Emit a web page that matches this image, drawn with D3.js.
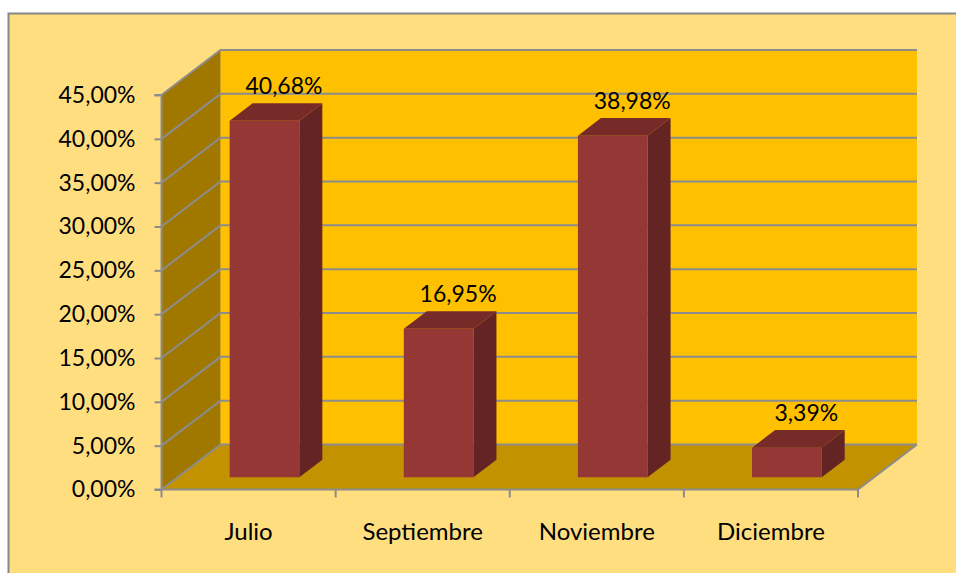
<!DOCTYPE html>
<html>
<head>
<meta charset="utf-8">
<script src="https://cdn.jsdelivr.net/npm/d3@7"></script>
<style>
  html, body { margin: 0; padding: 0; background: #ffffff; }
  svg { display: block; }
  text { font-family: Lato, "Open Sans", sans-serif; fill: #000; }
</style>
</head>
<body>
<svg id="chart" width="956" height="573"></svg>
<script>
const categories = ["Julio", "Septiembre", "Noviembre", "Diciembre"];
const values = [40.68, 16.95, 38.98, 3.39];
const valueLabels = ["40,68%", "16,95%", "38,98%", "3,39%"];
const tickValues = [0, 5, 10, 15, 20, 25, 30, 35, 40, 45];
const tickLabels = ["0,00%", "5,00%", "10,00%", "15,00%", "20,00%", "25,00%", "30,00%", "35,00%", "40,00%", "45,00%"];

const svg = d3.select("#chart");
const W = 956, H = 573;

// projection parameters
const DX = 59, DY = -45;
const x0 = 161.5, x1 = 858;
const x = d3.scaleBand().domain(categories).range([x0, x1]).paddingInner(0).paddingOuter(0);
const y = d3.scaleLinear().domain([0, 45]).range([489.5, 95]);
const P = (px, v, d) => [px + d * DX, y(v) + d * DY];

const grid = "#8c8c8c";

// outer background
svg.append("rect").attr("x", 8.5).attr("y", 13.5).attr("width", W).attr("height", H)
  .attr("fill", "#FFDE80").attr("stroke", "#888").attr("stroke-width", 2);

const line = d3.line();

// back wall
svg.append("path").attr("d", line([P(x0,0,1), P(x1,0,1), P(x1,45,1), P(x0,45,1)]) + "Z")
  .attr("fill", "#FFC000");
// left wall
svg.append("path").attr("d", line([P(x0,0,0), P(x0,0,1), P(x0,45,1), P(x0,45,0)]) + "Z")
  .attr("fill", "#A07800");
// floor
svg.append("path").attr("d", line([P(x0,0,0), P(x1,0,0), P(x1,0,1), P(x0,0,1)]) + "Z")
  .attr("fill", "#C29200");

// gridlines on back wall and left wall
tickValues.forEach(t => {
  svg.append("path").attr("d", line([P(x0,t,0), P(x0,t,1), P(x1,t,1)]))
    .attr("fill", "none").attr("stroke", grid).attr("stroke-width", 2);
});
// floor edges
svg.append("path").attr("d", line([P(x0,0,0), P(x1,0,0), P(x1,0,1)]))
  .attr("fill", "none").attr("stroke", grid).attr("stroke-width", 2);

// value axis
const yAxis = d3.axisLeft(y).tickValues(tickValues).tickSize(7).tickPadding(19)
  .tickFormat((d, i) => tickLabels[i]);
const ya = svg.append("g").attr("transform", `translate(${x0},0)`).call(yAxis);
ya.select(".domain").attr("stroke", grid).attr("stroke-width", 2).attr("d", `M-7,${y(0)}H0V${y(45)}H-7`);
ya.selectAll(".tick line").attr("stroke", grid).attr("stroke-width", 2);
ya.selectAll(".tick text").style("font-size", "23px").style("font-family", "Lato, sans-serif").attr("fill", "#000");

// category axis ticks
const catTicks = categories.map(c => x(c)).concat([x1]);
svg.selectAll(".ctick").data(catTicks).enter().append("line")
  .attr("x1", d => d).attr("x2", d => d).attr("y1", y(0)).attr("y2", y(0) + 8)
  .attr("stroke", grid).attr("stroke-width", 2);
svg.selectAll(".clabel").data(categories).enter().append("text")
  .attr("x", d => x(d) + x.bandwidth() / 2).attr("y", 540)
  .attr("text-anchor", "middle").style("font-size", "24px").text(d => d);

// bars
const d0 = 0.27, d1 = 0.66, bw = 0.4;
const bars = svg.selectAll(".bar").data(values).enter().append("g");
bars.each(function(v, i) {
  const g = d3.select(this);
  const cx = x(categories[i]) + x.bandwidth() / 2;
  const hw = x.bandwidth() * bw / 2;
  const L = cx - hw, R = cx + hw;
  // side face
  g.append("path").attr("d", line([P(R,0,d0), P(R,0,d1), P(R,v,d1), P(R,v,d0)]) + "Z")
    .attr("fill", "#632423");
  // top face
  g.append("path").attr("d", line([P(L,v,d0), P(R,v,d0), P(R,v,d1), P(L,v,d1)]) + "Z")
    .attr("fill", "#772B29");
  // front face
  g.append("path").attr("d", line([P(L,0,d0), P(R,0,d0), P(R,v,d0), P(L,v,d0)]) + "Z")
    .attr("fill", "#953735");
  // label
  const lx = P(cx, v, 0.6)[0];
  const ly = P(cx, v, d1)[1] - 9;
  g.append("text").attr("x", lx).attr("y", ly)
    .attr("text-anchor", "middle").style("font-size", "23px").text(valueLabels[i]);
});
</script>
</body>
</html>
